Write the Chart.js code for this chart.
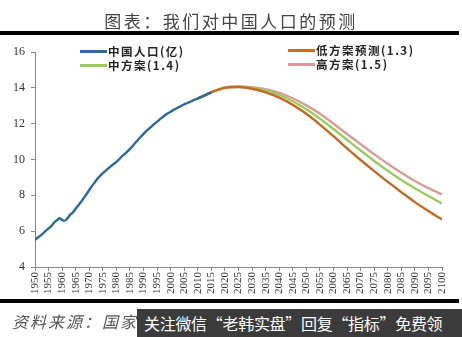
<!DOCTYPE html>
<html><head><meta charset="utf-8">
<script src="https://cdn.jsdelivr.net/npm/chart.js@4/dist/chart.umd.min.js"></script>
<style>
html,body{margin:0;padding:0;background:#fff;}
#wrap{position:relative;width:462px;height:337px;overflow:hidden;}
#c{position:absolute;left:0;top:0;}
.t{position:absolute;white-space:nowrap;}
#title{left:0;width:462px;top:8px;text-align:center;font:17px "Noto Sans CJK SC";color:#444;letter-spacing:2.5px;}
.bar{position:absolute;left:0;width:459px;height:4px;background:#000;}
.lg{position:absolute;font:bold 11.5px "Noto Sans CJK SC";color:#222;white-space:nowrap;letter-spacing:1.5px;}
.lg i{display:inline-block;width:27px;height:3px;vertical-align:middle;margin-right:1px;position:relative;top:-1px;}
#src{left:12px;top:309px;font:italic 16px "Noto Sans CJK SC";color:#555;letter-spacing:2px;}
#wm{position:absolute;left:137px;top:309px;width:325px;height:28px;background:#3b3b3b;color:#fff;font:16px "Noto Sans CJK SC";line-height:28px;padding-left:7px;white-space:nowrap;box-sizing:border-box;letter-spacing:-0.3px;}
</style></head>
<body><div id="wrap">
<canvas id="c" width="462" height="337"></canvas>
<div id="title" class="t">图表：我们对中国人口的预测</div>
<div class="bar" style="top:31px"></div>
<div class="bar" style="top:299px"></div>
<div class="lg" style="left:80px;top:43px"><i style="background:#2a6aa0"></i>中国人口(亿)</div>
<div class="lg" style="left:80px;top:57px"><i style="background:#9acb5c"></i>中方案(1.4)</div>
<div class="lg" style="left:288px;top:42px"><i style="background:#c46a25"></i>低方案预测(1.3)</div>
<div class="lg" style="left:288px;top:56px"><i style="background:#d99a9a"></i>高方案(1.5)</div>
<div id="src" class="t">资料来源：国家</div>
<div id="wm">关注微信“老韩实盘”回复“指标”免费领</div>
</div>
<script>
// Historical population (亿), yearly
const histYears = [];
for (let y = 1950; y <= 2015; y++) histYears.push(y);
const histValues = [5.52,5.63,5.75,5.88,6.03,6.15,6.28,6.47,6.60,6.72,6.62,6.59,6.73,6.92,7.05,7.25,7.45,7.64,7.85,8.07,
  8.30,8.52,8.72,8.92,9.09,9.24,9.37,9.50,9.63,9.75,9.87,10.01,10.17,10.30,10.44,10.59,10.75,10.93,11.10,11.27,
  11.43,11.58,11.72,11.85,11.99,12.11,12.24,12.36,12.48,12.58,12.67,12.76,12.85,12.92,13.00,13.08,13.14,13.21,13.28,13.35,
  13.41,13.47,13.54,13.61,13.68,13.75];
// Projections, every 5 years
const projYears = [2010,2015,2020,2025,2030,2035,2040,2045,2050,2055,2060,2065,2070,2075,2080,2085,2090,2095,2100];
const lowValues  = [13.41,13.75,14.00,14.05,13.95,13.75,13.45,13.05,12.55,11.95,11.30,10.62,9.97,9.35,8.75,8.18,7.62,7.12,6.65];
const midValues  = [13.41,13.75,14.01,14.07,14.00,13.85,13.60,13.25,12.80,12.28,11.70,11.10,10.50,9.92,9.37,8.86,8.40,7.96,7.55];
const highValues = [13.41,13.75,14.02,14.08,14.03,13.92,13.72,13.42,13.02,12.55,12.00,11.42,10.86,10.30,9.76,9.26,8.80,8.40,8.05];
const yTicks = [4,6,8,10,12,14,16];

const pts = (xs, ys) => xs.map((x, i) => ({x, y: ys[i]}));
const ds = (label, xs, ys, color) => ({label, data: pts(xs, ys), borderColor: color, borderWidth: 2.4,
  pointRadius: 0, tension: 0.4, cubicInterpolationMode: 'monotone', fill: false});

new Chart(document.getElementById('c'), {
  type: 'line',
  data: {datasets: [
    ds('中国人口(亿)', histYears, histValues, '#2a6aa0'),
    ds('低方案预测(1.3)', projYears, lowValues, '#c46a25'),
    ds('中方案(1.4)', projYears, midValues, '#9acb5c'),
    ds('高方案(1.5)', projYears, highValues, '#d99a9a')
  ]},
  options: {
    responsive: false, animation: false,
    layout: {padding: {top: 52, right: 20, bottom: 38, left: 0}},
    plugins: {legend: {display: false}, tooltip: {enabled: false}},
    scales: {
      x: {type: 'linear', min: 1950, max: 2100,
        afterFit: s => { s.height = 32; },
        afterBuildTicks: s => { s.ticks = []; for (let y = 1950; y <= 2100; y += 5) s.ticks.push({value: y}); },
        grid: {drawOnChartArea: false, drawTicks: true, tickLength: 4, color: '#888'},
        border: {color: '#888'},
        ticks: {autoSkip: false, maxRotation: 90, minRotation: 90, padding: 1,
          font: {family: 'Liberation Serif', size: 11}, color: '#333', callback: v => String(v)}
      },
      y: {min: 4, max: 16,
        afterFit: s => { s.width = 35; },
        afterBuildTicks: s => { s.ticks = yTicks.map(v => ({value: v})); },
        grid: {drawOnChartArea: false, drawTicks: true, tickLength: 4, color: '#888'},
        border: {color: '#888'},
        ticks: {padding: 6, font: {family: 'Liberation Serif', size: 12}, color: '#333'}
      }
    }
  }
});
</script>
</body></html>
